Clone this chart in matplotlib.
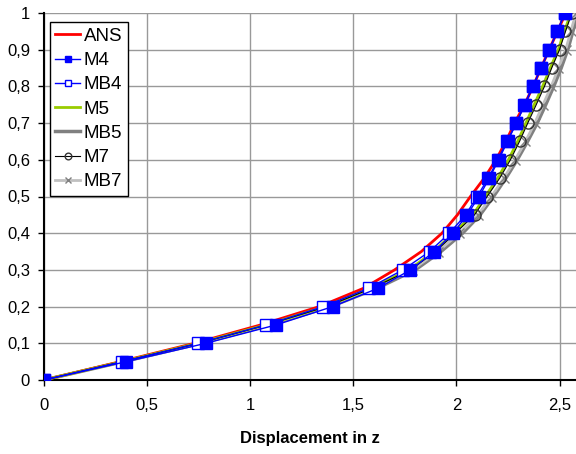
import numpy as np
import matplotlib.pyplot as plt

plt.rcParams['font.family'] = ['Liberation Sans', 'DejaVu Sans']

# load levels (y) and displacement in z (x) for each model
load = [0, 0.05, 0.1, 0.15, 0.2, 0.25, 0.3, 0.35, 0.4, 0.45, 0.5,
        0.55, 0.6, 0.65, 0.7, 0.75, 0.8, 0.85, 0.9, 0.95, 1.0]
ans = [0, 0.37, 0.73, 1.05, 1.335, 1.55, 1.70, 1.83, 1.93, 2.005, 2.068,
       2.135, 2.192, 2.24, 2.282, 2.33, 2.372, 2.41, 2.45, 2.49, 2.53]
m4 = [0, 0.40, 0.785, 1.125, 1.40, 1.62, 1.777, 1.893, 1.984, 2.052, 2.11,
      2.16, 2.205, 2.248, 2.291, 2.332, 2.372, 2.411, 2.451, 2.489, 2.526]
mb4 = [0, 0.38, 0.746, 1.076, 1.355, 1.575, 1.74, 1.87, 1.966, 2.045, 2.10,
       2.155, 2.20, 2.245, 2.29, 2.33, 2.37, 2.41, 2.45, 2.49, 2.525]
m5 = [0, 0.38, 0.745, 1.075, 1.365, 1.585, 1.77, 1.89, 1.985, 2.08, 2.14,
      2.20, 2.252, 2.297, 2.337, 2.377, 2.418, 2.455, 2.494, 2.524, 2.555]
mb5 = [0, 0.385, 0.76, 1.095, 1.39, 1.615, 1.80, 1.925, 2.03, 2.115, 2.18,
       2.24, 2.295, 2.345, 2.392, 2.433, 2.472, 2.508, 2.54, 2.565, 2.59]
m7 = [0, 0.38, 0.75, 1.08, 1.37, 1.59, 1.777, 1.898, 1.995, 2.088, 2.149,
      2.21, 2.262, 2.306, 2.346, 2.387, 2.427, 2.462, 2.50, 2.529, 2.56]
mb7 = [0, 0.38, 0.75, 1.08, 1.37, 1.595, 1.785, 1.91, 2.015, 2.105, 2.17,
       2.23, 2.285, 2.335, 2.38, 2.42, 2.46, 2.495, 2.53, 2.555, 2.58]

xticks = [0, 0.5, 1, 1.5, 2, 2.5]
yticks = [0, 0.1, 0.2, 0.3, 0.4, 0.5, 0.6, 0.7, 0.8, 0.9, 1.0]

fig = plt.figure(figsize=(5.76, 4.54), dpi=100)
ax = fig.add_axes([44/576, 74/454, 532/576, 367/454])

ax.plot(ans, load, color='red', lw=2, label='ANS', zorder=3)
ax.plot(m4, load, color='blue', lw=1, marker='s', ms=8, mfc='blue', mec='blue', label='M4', zorder=6)
ax.plot(mb4, load, color='blue', lw=1, marker='s', ms=8, mfc='white', mec='blue', label='MB4', zorder=5)
ax.plot(m5, load, color='#99cc00', lw=2, label='M5', zorder=3)
ax.plot(mb5, load, color='#808080', lw=2.5, label='MB5', zorder=2)
ax.plot(m7, load, color='black', lw=0.8, marker='o', ms=8, mfc='none', mec='#333333', label='M7', zorder=4)
ax.plot(mb7, load, color='#c0c0c0', lw=2, marker='x', ms=7, mec='#808080', label='MB7', zorder=2)

ax.set_xlim(0, 2.58)
ax.set_ylim(0, 1)
ax.set_xticks(xticks)
ax.set_yticks(yticks)
ax.set_xticklabels([('%g' % v).replace('.', ',') for v in xticks], fontsize=12)
ax.set_yticklabels([('%g' % v).replace('.', ',') for v in yticks], fontsize=12)
ax.grid(True, color='#999999', lw=1)
ax.set_axisbelow(True)
ax.tick_params(axis='y', direction='out', length=4, width=1, pad=6)
ax.tick_params(axis='x', direction='out', length=4, width=1, pad=9)

ax.spines['top'].set_visible(False)
ax.spines['right'].set_visible(False)
ax.spines['left'].set_linewidth(1.5)
ax.spines['bottom'].set_linewidth(1.5)
ax.set_xlabel('Displacement in z', fontsize=12, fontweight='bold', labelpad=13)

leg = ax.legend(loc='upper left', bbox_to_anchor=(0.011, 0.975), fontsize=13.5,
                frameon=True, fancybox=False, handlelength=1.3, markerscale=0.6,
                handletextpad=0.2, labelspacing=0.38, borderpad=0.3,
                borderaxespad=0)
leg.get_frame().set_edgecolor('black')
leg.get_frame().set_linewidth(1)
leg.get_frame().set_alpha(1)

fig.savefig('out.png', dpi=100)
